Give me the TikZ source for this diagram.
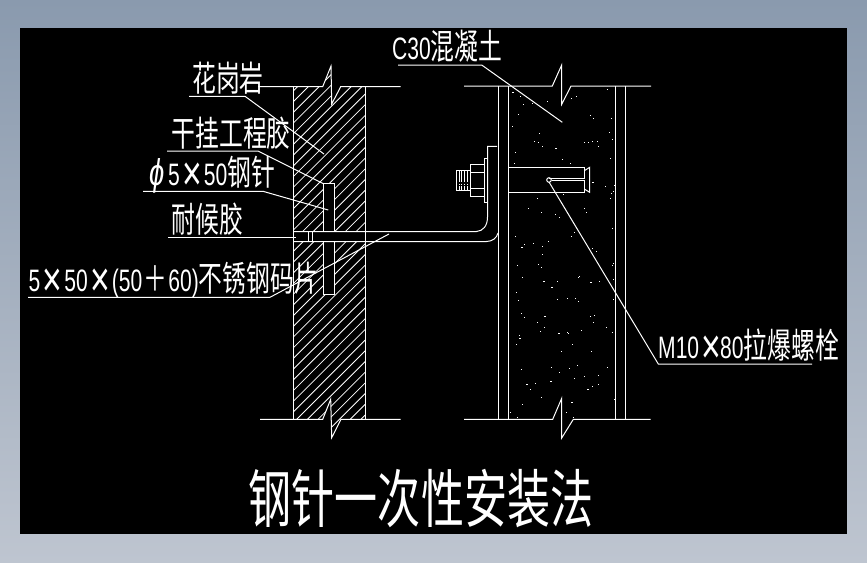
\documentclass[tikz,border=0pt]{standalone}
\usepackage{fontspec}
\setmainfont[FakeStretch=0.68]{Liberation Sans}
\newfontfamily\cjk[FakeStretch=0.68,Scale=1.13]{Noto Sans CJK SC}
\newcommand{\tms}{\hbox to 24pt{\hss\raisebox{-5pt}{\scalebox{1.6}{×}}\hss}}
\newcommand{\pls}{\hbox to 26pt{\hss\cjk ＋\hss}}
\newcommand{\dia}{\hbox to 23pt{\hss\scalebox{1.3}[1.2]{\itshape ϕ}\hss}}
\definecolor{frametop}{RGB}{138,154,174}
\definecolor{framebot}{RGB}{190,197,208}
\tikzset{
  cad/.style={draw=white,line width=1pt},
  hatchline/.style={draw=white,line width=0.8pt},
  labeltext/.style={anchor=base west,inner sep=0pt,text=white,font=\fontsize{31}{31}\selectfont},
  titletext/.style={anchor=base,inner sep=0pt,text=white,font=\fontsize{56}{56}\selectfont\cjk}
}
\begin{document}
\begin{tikzpicture}[x=1pt,y=-1pt]
\useasboundingbox(0,0)rectangle(867,562);
\path[draw=none,top color=frametop,bottom color=framebot](0,0)rectangle(867,562);
\path[draw=none,fill=black](20,28)rectangle(847,534);
\begin{scope}
\clip(293,86.7)--(322.7,86.7)--(331,66)--(331.7,104)--(340.7,86.7)--(365,86.7)--(365,419.3)--(341,419.3)--(331.7,437.7)--(330.7,399.3)--(322.7,419.3)--(293,419.3)--cycle;
\foreach \k in {-32,...,7}
  \draw[hatchline](200,716+\k*10.7-200)--(500,716+\k*10.7-500);
\path[draw=none,fill=black](323.3,183.3)rectangle(334,294.3);
\path[draw=none,fill=black](290,231.5)rectangle(370,241.5);
\end{scope}
\draw[cad](258,86.7)--(322.7,86.7)--(331,66)--(331.7,104)--(340.7,86.7)--(400.7,86.7);
\draw[cad](260,419.3)--(322.7,419.3)--(330.7,399.3)--(331.7,437.7)--(341,419.3)--(400.7,419.3);
\draw[cad](293,86.7)--(293,419.3);
\draw[cad](365.3,86.7)--(365.3,419.3);
\draw[cad](464,86)--(552.3,86)--(561.7,65)--(561.7,104.3)--(571,86)--(651,86);
\draw[cad](464,419.3)--(552.7,419.3)--(561.7,398.3)--(561.7,438)--(573.3,419.3)--(650.7,419.3);
\foreach \wx in {498.3,508.3,615.7,625.7}
  \draw[cad](\wx,86)--(\wx,419.3);
\draw[cad](323.3,231.5)--(323.3,183.3)--(334,183.3)--(334,231.5);
\draw[cad](323.3,241.5)--(323.3,294.3)--(334,294.3)--(334,241.5);
\draw[cad](293,231.5)--(476.5,231.5)..controls(483,231)and(487.5,226)..(487.5,217)--(487.5,146.3)--(497,146.3);
\draw[cad](293,241.5)--(486.5,241.5)..controls(492,241.5)and(497,238)..(498,233);
\draw[cad](308.3,231.5)--(308.3,241.5);
\draw[cad](312.7,231.5)--(312.7,241.5);
\draw[cad](484.3,158.3)rectangle(487.5,202.3);
\draw[cad](470.3,164.3)rectangle(484.3,196.7);
\draw[cad](470.3,172.3)--(484.3,172.3);
\draw[cad](470.3,188.7)--(484.3,188.7);
\draw[cad](456.3,170.3)rectangle(470.3,190.7);
\foreach \tx in {459,461.7,464.3,467}{
  \draw[hatchline](\tx,170.3)--(\tx,181.5);
  \draw[hatchline](\tx,183.5)--(\tx,184.5);
  \draw[hatchline](\tx,186)--(\tx,190.7);
}
\draw[cad](508.3,167.3)--(584.7,167.3)--(584.7,178.3)--(548.5,178.3);
\draw[cad](508.3,192.3)--(584.7,192.3)--(584.7,180.7)--(551.5,180.7);
\draw[cad](584.7,170.5)--(589.7,167.3)--(589.7,192.3)--(584.7,189.3);
\draw[cad](549,180)circle(2.3);
\begin{scope}[shift={(430,60)},x=1/3*1pt,y=-1/3*1pt]
\foreach \dx/\dy in {270/108,280/132,352/124,265/163,307/128,247/198,328/220,313/243,325/247,337/259,255/277,253/310,397/297,421/310,463/247,475/247,485/244,502/244,505/259,547/238,538/217,544/175,490/175,480/166,532/88,438/108,424/115,394/85,541/295,553/375,549/393,544/400,541/415,526/378,322/415,295/445,332/457,375/463,388/471,463/445,469/457,400/403,547/505,433/517,424/528,256/529,283/553,310/550,337/559,355/544,337/583,487/565,499/574}
  \path[draw=none,fill=white](\dx,\dy)rectangle++(3,3);
\foreach \dx/\dy in {245/95,375/265,272/562,485/367}
  \path[draw=none,fill=white](\dx,\dy)rectangle++(6,3);
\end{scope}
\begin{scope}[shift={(505,255)},x=1/3*1pt,y=-1/3*1pt]
\foreach \dx/\dy in {37/30,100/28,109/37,52/67,223/64,220/67,157/79,325/25,322/31,325/73,283/79,34/112,40/136,157/133,187/130,211/130,220/139,325/133,49/175,58/187,256/184,268/181,97/202,118/217,265/202,304/217,106/229,229/226,187/232,190/235,322/232,43/241,34/268,202/268,169/289,259/289,139/337,193/340,217/331,307/337,49/343,163/352,238/364,280/361,208/370,91/385,280/388,262/394,76/403,109/427,328/433,52/448,16/472,184/472,37/487,205/487}
  \path[draw=none,fill=white](\dx,\dy)rectangle++(3,3);
\foreach \dx/\dy in {114/79,138/97,255/82,117/184,159/235,42/250,135/379,63/388,246/403,198/442}
  \path[draw=none,fill=white](\dx,\dy)rectangle++(6,3);
\end{scope}
\node[labeltext](lblstone)at(192,91){\cjk 花岗岩};
\node[labeltext](lblglue)at(171.5,146){\cjk 干挂工程胶};
\node[labeltext](lblpin)at(145,185.5){\dia 5\tms 50\cjk 钢针};
\node[labeltext](lblseal)at(171.5,232){\cjk 耐候胶};
\node[labeltext](lblclip)at(28.5,291.5){5\tms 50\tms(50\pls 60)\cjk 不锈钢码片};
\node[labeltext](lblconcrete)at(392,59.5){C30\cjk 混凝土};
\node[labeltext](lblbolt)at(658,358.5){M10\tms\kern-3pt 80\cjk 拉爆螺栓};
\node[titletext](lbltitle)at(421,522){钢针一次性安装法};
\coordinate(stonea)at(189,96.3);
\coordinate(stoneb)at(245,96.3);
\coordinate(stonec)at(324,154);
\coordinate(gluea)at(167,151);
\coordinate(glueb)at(258,151);
\coordinate(gluec)at(324,184);
\coordinate(pina)at(143,191.3);
\coordinate(pinb)at(263,191.3);
\coordinate(pinc)at(328.3,210);
\coordinate(seala)at(168,237.3);
\coordinate(sealb)at(296,237.3);
\coordinate(clipa)at(28,297.3);
\coordinate(clipb)at(270,297.3);
\coordinate(clipc)at(389,234);
\coordinate(concretea)at(398,65);
\coordinate(concreteb)at(481.7,65);
\coordinate(concretec)at(562.3,122.3);
\coordinate(bolta)at(812,364);
\coordinate(boltb)at(658.3,364);
\coordinate(boltc)at(549,182);
\draw[cad](stonea)--(stoneb)--(stonec);
\draw[cad](gluea)--(glueb)--(gluec);
\draw[cad](pina)--(pinb)--(pinc);
\draw[cad](seala)--(sealb);
\draw[cad](clipa)--(clipb)--(clipc);
\draw[cad](concretea)--(concreteb)--(concretec);
\draw[cad](bolta)--(boltb)--(boltc);
\end{tikzpicture}
\end{document}
